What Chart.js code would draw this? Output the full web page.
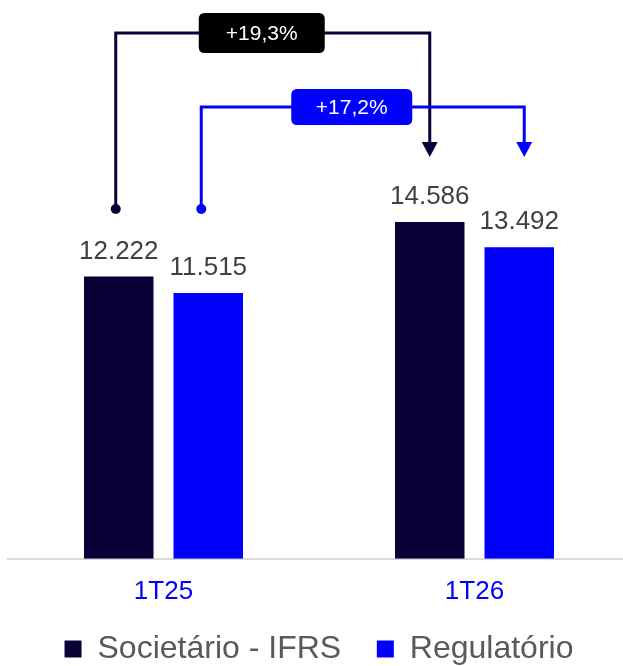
<!DOCTYPE html>
<html>
<head>
<meta charset="utf-8">
<script src="https://cdn.jsdelivr.net/npm/chart.js@4/dist/chart.umd.min.js"></script>
<style>
  html, body { margin: 0; padding: 0; background: #fff; overflow: hidden; }
  canvas { display: block; }
</style>
</head>
<body>
<canvas id="growthChart" width="630" height="675"></canvas>
<script>
"use strict";
// data
const periods = ['1T25', '1T26'];
const seriesNames = ['Societário - IFRS', 'Regulatório'];
const societario = [12222, 14586];
const regulatorio = [11515, 13492];

const DARK = '#0a0038';
const BLUE = '#0000ff';
const FONT = '"Liberation Sans", Arial, sans-serif';

function fmtThousands(v) {
    return String(v).replace(/\B(?=(\d{3})+(?!\d))/g, '.');
}
function fmtGrowth(a, b) {
    const pct = (b / a - 1) * 100;
    return (pct >= 0 ? '+' : '') + pct.toFixed(1).replace('.', ',') + '%';
}

function roundRect(ctx, x, y, w, h, r) {
    ctx.beginPath();
    ctx.moveTo(x + r, y);
    ctx.lineTo(x + w - r, y);
    ctx.quadraticCurveTo(x + w, y, x + w, y + r);
    ctx.lineTo(x + w, y + h - r);
    ctx.quadraticCurveTo(x + w, y + h, x + w - r, y + h);
    ctx.lineTo(x + r, y + h);
    ctx.quadraticCurveTo(x, y + h, x, y + h - r);
    ctx.lineTo(x, y + r);
    ctx.quadraticCurveTo(x, y, x + r, y);
    ctx.closePath();
}

function drawConnector(ctx, c) {
    ctx.save();
    ctx.strokeStyle = c.color;
    ctx.fillStyle = c.color;
    ctx.lineWidth = 3;
    ctx.beginPath();
    ctx.moveTo(c.x1, c.yDot);
    ctx.lineTo(c.x1, c.yLine);
    ctx.lineTo(c.x2, c.yLine);
    ctx.lineTo(c.x2, c.yTip - 14);
    ctx.stroke();
    // dot
    ctx.beginPath();
    ctx.arc(c.x1, c.yDot, 5, 0, Math.PI * 2);
    ctx.fill();
    // arrow head
    ctx.beginPath();
    ctx.moveTo(c.x2 - 8, c.yTip - 15);
    ctx.lineTo(c.x2 + 8, c.yTip - 15);
    ctx.lineTo(c.x2, c.yTip);
    ctx.closePath();
    ctx.fill();
    // label box
    const cx = (c.x1 + c.x2) / 2 - 11;
    ctx.fillStyle = c.boxColor;
    roundRect(ctx, cx - c.boxW / 2, c.yLine - c.boxH / 2, c.boxW, c.boxH, 6);
    ctx.fill();
    ctx.fillStyle = '#ffffff';
    ctx.font = '21px ' + FONT;
    ctx.textAlign = 'center';
    ctx.textBaseline = 'middle';
    ctx.fillText(c.text, cx, c.yLine + 1);
    ctx.restore();
}

const labelsAndArrows = {
    id: 'labelsAndArrows',
    afterDatasetsDraw(chart) {
        const ctx = chart.ctx;
        const top = chart.chartArea.top;
        ctx.save();
        ctx.font = '26px ' + FONT;
        ctx.fillStyle = '#404040';
        ctx.textAlign = 'center';
        ctx.textBaseline = 'alphabetic';
        chart.data.datasets.forEach((ds, i) => {
            chart.getDatasetMeta(i).data.forEach((bar, j) => {
                ctx.fillText(fmtThousands(ds.data[j]), bar.x, bar.y - 18);
            });
        });
        ctx.restore();

        const d0 = chart.getDatasetMeta(0).data;
        const d1 = chart.getDatasetMeta(1).data;
        drawConnector(ctx, {
            x1: d0[0].x - 3, x2: d0[1].x, yDot: top + 209, yLine: top + 33, yTip: top + 157,
            color: DARK, boxColor: '#000000', boxW: 126, boxH: 40,
            text: fmtGrowth(societario[0], societario[1])
        });
        drawConnector(ctx, {
            x1: d1[0].x - 7, x2: d1[1].x + 5, yDot: top + 209, yLine: top + 107, yTip: top + 157,
            color: BLUE, boxColor: BLUE, boxW: 121, boxH: 36,
            text: fmtGrowth(regulatorio[0], regulatorio[1])
        });
    }
};

const ctx = document.getElementById('growthChart').getContext('2d');
new Chart(ctx, {
    type: 'bar',
    data: {
        labels: periods,
        datasets: [{
                label: seriesNames[0],
                data: societario,
                backgroundColor: DARK,
                borderWidth: 0,
                categoryPercentage: 0.5756,
                barPercentage: 0.7765
            }, {
                label: seriesNames[1],
                data: regulatorio,
                backgroundColor: BLUE,
                borderWidth: 0,
                categoryPercentage: 0.5756,
                barPercentage: 0.7765
            }]
    },
    options: {
        responsive: false,
        animation: false,
        layout: { padding: { left: 8, right: 0, top: 0, bottom: 0 } },
        plugins: {
            tooltip: { enabled: false },
            legend: {
                position: 'bottom',
                labels: {
                    boxWidth: 17,
                    boxHeight: 17,
                    padding: 9,
                    color: '#595959',
                    font: { family: FONT, size: 32 },
                    generateLabels(chart) {
                        const items = Chart.defaults.plugins.legend.labels.generateLabels(chart);
                        // extra room between the two entries
                        items[0].text = items[0].text + '   ';
                        return items;
                    }
                }
            }
        },
        scales: {
            x: {
                grid: { display: false, drawTicks: false },
                border: { display: true, color: '#d9d9d9', width: 2 },
                ticks: {
                    color: BLUE,
                    padding: 17,
                    font: { family: FONT, size: 26 }
                }
            },
            y: {
                display: false,
                min: 0,
                max: 24200
            }
        }
    },
    plugins: [labelsAndArrows]
});
</script>
</body>
</html>
